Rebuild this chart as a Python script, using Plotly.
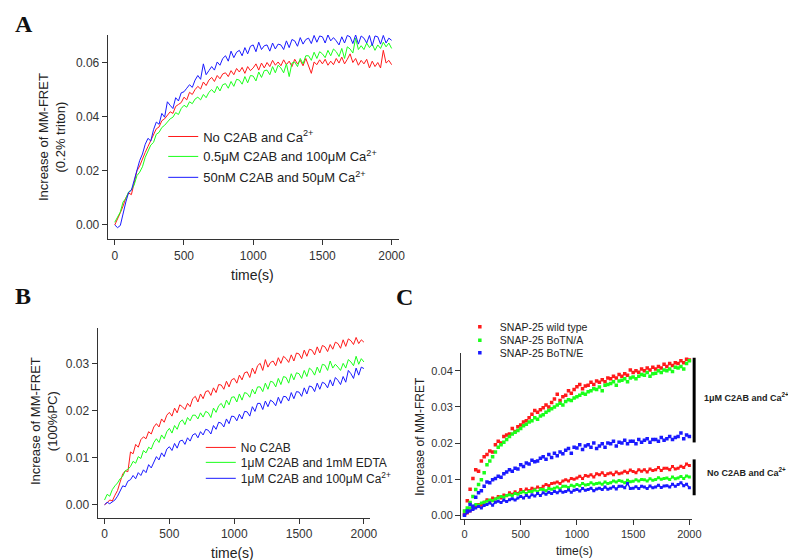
import plotly.graph_objects as go

# ---------------- data ----------------
# Panel A, B: sampled every 20 s from 0 to 2000 s
time_ab = list(range(0, 2001, 20))
# Panel C: sampled every 25 s from 0 to 2000 s
time_c = list(range(0, 2001, 25))

a_red = [0.0000, 0.0020, 0.0045, 0.0070, 0.0100,
         0.0118, 0.0112, 0.0155, 0.0200, 0.0218,
         0.0245, 0.0268, 0.0290, 0.0312, 0.0335,
         0.0355, 0.0362, 0.0385, 0.0392, 0.0405,
         0.0418, 0.0412, 0.0438, 0.0445, 0.0452,
         0.0472, 0.0462, 0.0490, 0.0482, 0.0500,
         0.0512, 0.0502, 0.0528, 0.0515, 0.0535,
         0.0545, 0.0530, 0.0552, 0.0540, 0.0558,
         0.0562, 0.0548, 0.0570, 0.0555, 0.0578,
         0.0565, 0.0582, 0.0560, 0.0585, 0.0570,
         0.0580, 0.0595, 0.0572, 0.0598, 0.0580,
         0.0600, 0.0585, 0.0608, 0.0590, 0.0602,
         0.0588, 0.0610, 0.0592, 0.0605, 0.0585,
         0.0612, 0.0595, 0.0608, 0.0588, 0.0615,
         0.0590, 0.0560, 0.0602, 0.0592, 0.0610,
         0.0595, 0.0612, 0.0590, 0.0605, 0.0592,
         0.0615, 0.0598, 0.0620, 0.0595, 0.0612,
         0.0632, 0.0600, 0.0615, 0.0590, 0.0608,
         0.0595, 0.0612, 0.0580, 0.0605, 0.0585,
         0.0600, 0.0580, 0.0645, 0.0598, 0.0608,
         0.0592]
a_green = [0.0010, 0.0032, 0.0048, 0.0085, 0.0098,
           0.0122, 0.0130, 0.0148, 0.0182, 0.0195,
           0.0215, 0.0250, 0.0272, 0.0295, 0.0305,
           0.0335, 0.0342, 0.0360, 0.0368, 0.0380,
           0.0392, 0.0398, 0.0415, 0.0408, 0.0430,
           0.0442, 0.0435, 0.0455, 0.0448, 0.0465,
           0.0472, 0.0462, 0.0482, 0.0470, 0.0490,
           0.0500, 0.0488, 0.0512, 0.0495, 0.0518,
           0.0522, 0.0505, 0.0530, 0.0512, 0.0538,
           0.0535, 0.0520, 0.0548, 0.0525, 0.0552,
           0.0550, 0.0532, 0.0565, 0.0545, 0.0570,
           0.0572, 0.0555, 0.0585, 0.0562, 0.0590,
           0.0580, 0.0562, 0.0595, 0.0548, 0.0598,
           0.0602, 0.0585, 0.0615, 0.0595, 0.0625,
           0.0625, 0.0608, 0.0638, 0.0615, 0.0640,
           0.0632, 0.0618, 0.0645, 0.0625, 0.0650,
           0.0640, 0.0622, 0.0652, 0.0615, 0.0658,
           0.0650, 0.0635, 0.0690, 0.0648, 0.0662,
           0.0648, 0.0672, 0.0655, 0.0668, 0.0645,
           0.0665, 0.0652, 0.0675, 0.0658, 0.0672,
           0.0652]
a_blue = [0.0000, -0.0010, -0.0002, 0.0045, 0.0085,
          0.0120, 0.0128, 0.0165, 0.0205, 0.0238,
          0.0262, 0.0298, 0.0320, 0.0310, 0.0352,
          0.0380, 0.0372, 0.0412, 0.0398, 0.0455,
          0.0442, 0.0430, 0.0470, 0.0458, 0.0488,
          0.0492, 0.0505, 0.0518, 0.0508, 0.0535,
          0.0552, 0.0538, 0.0595, 0.0555, 0.0570,
          0.0585, 0.0572, 0.0602, 0.0590, 0.0615,
          0.0625, 0.0605, 0.0642, 0.0618, 0.0638,
          0.0645, 0.0625, 0.0655, 0.0632, 0.0660,
          0.0665, 0.0640, 0.0675, 0.0648, 0.0662,
          0.0665, 0.0642, 0.0672, 0.0650, 0.0668,
          0.0665, 0.0648, 0.0680, 0.0655, 0.0685,
          0.0680, 0.0660, 0.0692, 0.0668, 0.0685,
          0.0690, 0.0670, 0.0700, 0.0675, 0.0698,
          0.0695, 0.0672, 0.0702, 0.0680, 0.0692,
          0.0680, 0.0665, 0.0695, 0.0672, 0.0700,
          0.0695, 0.0670, 0.0702, 0.0668, 0.0698,
          0.0690, 0.0672, 0.0700, 0.0662, 0.0698,
          0.0695, 0.0668, 0.0700, 0.0672, 0.0690,
          0.0682]

b_red = [0.0000, 0.0004, 0.0010, 0.0008, 0.0020,
         0.0030, 0.0048, 0.0065, 0.0072, 0.0070,
         0.0112, 0.0108, 0.0128, 0.0122, 0.0138,
         0.0144, 0.0140, 0.0155, 0.0150, 0.0165,
         0.0172, 0.0165, 0.0182, 0.0175, 0.0190,
         0.0196, 0.0188, 0.0205, 0.0195, 0.0212,
         0.0208, 0.0202, 0.0215, 0.0208, 0.0225,
         0.0230, 0.0218, 0.0235, 0.0225, 0.0240,
         0.0242, 0.0232, 0.0248, 0.0238, 0.0255,
         0.0254, 0.0245, 0.0262, 0.0250, 0.0265,
         0.0268, 0.0258, 0.0275, 0.0265, 0.0280,
         0.0282, 0.0270, 0.0290, 0.0278, 0.0295,
         0.0300, 0.0285, 0.0308, 0.0292, 0.0302,
         0.0305, 0.0295, 0.0312, 0.0300, 0.0315,
         0.0310, 0.0302, 0.0318, 0.0305, 0.0322,
         0.0320, 0.0310, 0.0328, 0.0315, 0.0330,
         0.0328, 0.0318, 0.0335, 0.0322, 0.0338,
         0.0335, 0.0325, 0.0340, 0.0330, 0.0345,
         0.0342, 0.0332, 0.0350, 0.0336, 0.0352,
         0.0348, 0.0340, 0.0355, 0.0342, 0.0350,
         0.0345]
b_green = [0.0010, 0.0022, 0.0018, 0.0032, 0.0040,
           0.0046, 0.0055, 0.0060, 0.0072, 0.0075,
           0.0081, 0.0092, 0.0088, 0.0102, 0.0098,
           0.0115, 0.0110, 0.0122, 0.0118, 0.0132,
           0.0140, 0.0132, 0.0148, 0.0140, 0.0155,
           0.0162, 0.0152, 0.0168, 0.0160, 0.0175,
           0.0180, 0.0170, 0.0185, 0.0178, 0.0190,
           0.0190, 0.0182, 0.0195, 0.0186, 0.0198,
           0.0195, 0.0185, 0.0205, 0.0196, 0.0210,
           0.0215, 0.0205, 0.0222, 0.0212, 0.0228,
           0.0229, 0.0218, 0.0235, 0.0222, 0.0238,
           0.0236, 0.0228, 0.0245, 0.0235, 0.0250,
           0.0250, 0.0240, 0.0258, 0.0245, 0.0262,
           0.0260, 0.0250, 0.0268, 0.0255, 0.0272,
           0.0270, 0.0258, 0.0278, 0.0265, 0.0280,
           0.0278, 0.0268, 0.0285, 0.0272, 0.0290,
           0.0285, 0.0275, 0.0292, 0.0280, 0.0298,
           0.0296, 0.0285, 0.0305, 0.0290, 0.0298,
           0.0292, 0.0285, 0.0300, 0.0290, 0.0308,
           0.0303, 0.0295, 0.0315, 0.0298, 0.0310,
           0.0303]
b_blue = [0.0000, 0.0005, 0.0002, 0.0006, 0.0010,
          0.0018, 0.0028, 0.0040, 0.0038, 0.0050,
          0.0053, 0.0062, 0.0055, 0.0068, 0.0062,
          0.0074, 0.0068, 0.0085, 0.0078, 0.0092,
          0.0102, 0.0095, 0.0110, 0.0102, 0.0118,
          0.0123, 0.0115, 0.0130, 0.0120, 0.0135,
          0.0137, 0.0128, 0.0142, 0.0135, 0.0148,
          0.0151, 0.0142, 0.0155, 0.0148, 0.0160,
          0.0158, 0.0150, 0.0168, 0.0160, 0.0175,
          0.0173, 0.0165, 0.0182, 0.0172, 0.0188,
          0.0187, 0.0178, 0.0192, 0.0182, 0.0198,
          0.0197, 0.0188, 0.0208, 0.0198, 0.0215,
          0.0215, 0.0202, 0.0220, 0.0208, 0.0222,
          0.0218, 0.0210, 0.0228, 0.0215, 0.0230,
          0.0229, 0.0220, 0.0238, 0.0225, 0.0240,
          0.0239, 0.0230, 0.0248, 0.0235, 0.0252,
          0.0250, 0.0240, 0.0258, 0.0245, 0.0260,
          0.0257, 0.0248, 0.0265, 0.0252, 0.0270,
          0.0264, 0.0255, 0.0272, 0.0260, 0.0285,
          0.0278, 0.0268, 0.0290, 0.0275, 0.0292,
          0.0289]

# Panel C, upper group (1 uM C2AB and Ca2+)
c_red_up = [0.0002, 0.0040, 0.0072, 0.0102,
            0.0126, 0.0122, 0.0150, 0.0162,
            0.0168, 0.0178, 0.0175, 0.0195,
            0.0205, 0.0200, 0.0218, 0.0222,
            0.0225, 0.0240, 0.0232, 0.0245,
            0.0250, 0.0258, 0.0262, 0.0270,
            0.0280, 0.0290, 0.0285, 0.0292,
            0.0298, 0.0305, 0.0300, 0.0312,
            0.0322, 0.0335, 0.0318, 0.0328,
            0.0332, 0.0345, 0.0338, 0.0348,
            0.0356, 0.0362, 0.0350, 0.0358,
            0.0360, 0.0368, 0.0362, 0.0372,
            0.0368, 0.0375, 0.0370, 0.0380,
            0.0378, 0.0385, 0.0380, 0.0390,
            0.0385, 0.0392, 0.0388, 0.0402,
            0.0395, 0.0400, 0.0396, 0.0405,
            0.0400, 0.0408, 0.0402, 0.0410,
            0.0405, 0.0412, 0.0408, 0.0418,
            0.0412, 0.0420, 0.0415, 0.0422,
            0.0420, 0.0428, 0.0422, 0.0432,
            0.0430]
c_green_up = [0.0012, 0.0020, 0.0035, 0.0052,
              0.0071, 0.0085, 0.0098, 0.0118,
              0.0140, 0.0150, 0.0162, 0.0175,
              0.0188, 0.0195, 0.0202, 0.0210,
              0.0218, 0.0225, 0.0230, 0.0235,
              0.0240, 0.0248, 0.0252, 0.0258,
              0.0262, 0.0270, 0.0266, 0.0275,
              0.0278, 0.0285, 0.0290, 0.0295,
              0.0300, 0.0305, 0.0310, 0.0305,
              0.0315, 0.0320, 0.0318, 0.0325,
              0.0328, 0.0332, 0.0338, 0.0335,
              0.0342, 0.0345, 0.0350, 0.0348,
              0.0355, 0.0345, 0.0360, 0.0362,
              0.0365, 0.0370, 0.0360, 0.0372,
              0.0374, 0.0378, 0.0370, 0.0380,
              0.0383, 0.0378, 0.0385, 0.0390,
              0.0388, 0.0395, 0.0385, 0.0392,
              0.0393, 0.0400, 0.0395, 0.0402,
              0.0400, 0.0405, 0.0398, 0.0410,
              0.0408, 0.0412, 0.0405, 0.0420,
              0.0428]
c_blue_up = [0.0000, 0.0012, 0.0030, 0.0025,
             0.0050, 0.0062, 0.0068, 0.0080,
             0.0092, 0.0090, 0.0098, 0.0102,
             0.0108, 0.0105, 0.0115, 0.0120,
             0.0126, 0.0122, 0.0130, 0.0128,
             0.0140, 0.0135, 0.0145, 0.0142,
             0.0152, 0.0148, 0.0150, 0.0158,
             0.0162, 0.0155, 0.0168, 0.0160,
             0.0172, 0.0165, 0.0175, 0.0170,
             0.0180, 0.0185, 0.0172, 0.0188,
             0.0186, 0.0195, 0.0182, 0.0192,
             0.0195, 0.0188, 0.0200, 0.0185,
             0.0192, 0.0198, 0.0188, 0.0200,
             0.0198, 0.0205, 0.0192, 0.0202,
             0.0200, 0.0208, 0.0198, 0.0205,
             0.0205, 0.0198, 0.0210, 0.0202,
             0.0208, 0.0212, 0.0202, 0.0210,
             0.0210, 0.0205, 0.0215, 0.0208,
             0.0212, 0.0218, 0.0210, 0.0215,
             0.0218, 0.0228, 0.0212, 0.0222,
             0.0218]
# Panel C, lower group (No C2AB and Ca2+)
c_red_lo = [0.0000, 0.0006, 0.0012, 0.0018,
            0.0025, 0.0030, 0.0028, 0.0036,
            0.0043, 0.0040, 0.0048, 0.0045,
            0.0052, 0.0048, 0.0056, 0.0054,
            0.0062, 0.0058, 0.0065, 0.0060,
            0.0071, 0.0066, 0.0073, 0.0068,
            0.0075, 0.0072, 0.0078, 0.0074,
            0.0080, 0.0085, 0.0082, 0.0088,
            0.0089, 0.0092, 0.0088, 0.0095,
            0.0098, 0.0095, 0.0102, 0.0100,
            0.0103, 0.0108, 0.0102, 0.0110,
            0.0108, 0.0112, 0.0106, 0.0115,
            0.0112, 0.0118, 0.0110, 0.0115,
            0.0117, 0.0112, 0.0120, 0.0115,
            0.0117, 0.0122, 0.0118, 0.0125,
            0.0121, 0.0118, 0.0126, 0.0122,
            0.0126, 0.0120, 0.0128, 0.0124,
            0.0126, 0.0132, 0.0124, 0.0130,
            0.0130, 0.0126, 0.0135, 0.0128,
            0.0130, 0.0136, 0.0132, 0.0142,
            0.0138]
c_green_lo = [0.0011, 0.0015, 0.0020, 0.0025,
              0.0030, 0.0028, 0.0034, 0.0036,
              0.0039, 0.0042, 0.0040, 0.0045,
              0.0048, 0.0052, 0.0050, 0.0055,
              0.0057, 0.0054, 0.0060, 0.0058,
              0.0062, 0.0065, 0.0060, 0.0066,
              0.0066, 0.0070, 0.0065, 0.0072,
              0.0071, 0.0068, 0.0074, 0.0072,
              0.0075, 0.0078, 0.0073, 0.0080,
              0.0080, 0.0077, 0.0083, 0.0080,
              0.0085, 0.0082, 0.0088, 0.0084,
              0.0085, 0.0090, 0.0086, 0.0088,
              0.0089, 0.0086, 0.0092, 0.0088,
              0.0090, 0.0095, 0.0092, 0.0096,
              0.0094, 0.0090, 0.0097, 0.0093,
              0.0094, 0.0098, 0.0095, 0.0099,
              0.0098, 0.0095, 0.0101, 0.0097,
              0.0099, 0.0104, 0.0100, 0.0102,
              0.0103, 0.0099, 0.0106, 0.0101,
              0.0103, 0.0107, 0.0102, 0.0109,
              0.0106]
c_blue_lo = [0.0000, 0.0008, 0.0012, 0.0016,
             0.0020, 0.0024, 0.0020, 0.0027,
             0.0030, 0.0034, 0.0028, 0.0036,
             0.0039, 0.0035, 0.0042, 0.0038,
             0.0043, 0.0046, 0.0042, 0.0048,
             0.0052, 0.0048, 0.0055, 0.0050,
             0.0057, 0.0053, 0.0060, 0.0055,
             0.0062, 0.0058, 0.0064, 0.0060,
             0.0066, 0.0062, 0.0068, 0.0064,
             0.0066, 0.0070, 0.0064, 0.0069,
             0.0071, 0.0067, 0.0074, 0.0069,
             0.0071, 0.0075, 0.0068, 0.0073,
             0.0075, 0.0071, 0.0078, 0.0072,
             0.0075, 0.0079, 0.0073, 0.0080,
             0.0080, 0.0076, 0.0088, 0.0074,
             0.0075, 0.0079, 0.0074, 0.0080,
             0.0078, 0.0074, 0.0081, 0.0076,
             0.0078, 0.0083, 0.0077, 0.0081,
             0.0082, 0.0078, 0.0086, 0.0080,
             0.0085, 0.0090, 0.0082, 0.0086,
             0.0076]

names_a = ["No C2AB and Ca<sup>2+</sup>",
           "0.5μM C2AB and 100μM Ca<sup>2+</sup>",
           "50nM C2AB and 50μM Ca<sup>2+</sup>"]
names_b = ["No C2AB", "1μM C2AB and 1mM EDTA",
           "1μM C2AB and 100μM Ca<sup>2+</sup>"]
names_c = ["SNAP-25 wild type", "SNAP-25 BoTN/A", "SNAP-25 BoTN/E"]
colors = ["#ff1a1a", "#1aff1a", "#1a1aff"]

ticks_x = [0, 500, 1000, 1500, 2000]
ticks_a = [0.00, 0.02, 0.04, 0.06]
ticks_b = [0.00, 0.01, 0.02, 0.03]
ticks_c = [0.00, 0.01, 0.02, 0.03, 0.04]

# ---------------- figure ----------------
W, H = 796, 560
FONT = "Liberation Sans, Arial, sans-serif"
fig = go.Figure()

def px(x):
    return x / W

def py(y):
    return 1 - y / H

# one legend per entry so each row can sit exactly where the reference puts it
leg_a = ["legend", "legend2", "legend3"]
leg_b = ["legend4", "legend5", "legend6"]
leg_c = ["legend7", "legend8", "legend9"]

for ys, nm, col, lg in zip([a_red, a_green, a_blue], names_a, colors, leg_a):
    fig.add_trace(go.Scatter(x=time_ab[:len(ys)], y=ys, name=nm, mode="lines",
                             line=dict(color=col, width=1), xaxis="x", yaxis="y",
                             legend=lg))
for ys, nm, col, lg in zip([b_red, b_green, b_blue], names_b, colors, leg_b):
    fig.add_trace(go.Scatter(x=time_ab[:len(ys)], y=ys, name=nm, mode="lines",
                             line=dict(color=col, width=1), xaxis="x2", yaxis="y2",
                             legend=lg))
for yu, yl, nm, col, lg in zip([c_red_up, c_green_up, c_blue_up],
                               [c_red_lo, c_green_lo, c_blue_lo], names_c, colors, leg_c):
    fig.add_trace(go.Scatter(x=time_c[:len(yu)], y=yu, name=nm, mode="markers",
                             marker=dict(color=col, size=3.5, symbol="square"),
                             xaxis="x3", yaxis="y3", legend=lg, legendgroup=nm))
    fig.add_trace(go.Scatter(x=time_c[:len(yl)], y=yl, name=nm, mode="lines+markers",
                             line=dict(color=col, width=1.5),
                             marker=dict(color=col, size=3, symbol="square"),
                             xaxis="x3", yaxis="y3", legend=lg, legendgroup=nm,
                             showlegend=False))

axis_common = dict(showline=True, linecolor="#333", linewidth=1.3, ticks="outside",
                   ticklen=5, tickwidth=1.2, tickcolor="#333", showgrid=False,
                   zeroline=False, mirror=False,
                   tickfont=dict(family=FONT, size=12, color="#333"))
axis_c = {**axis_common, "tickfont": dict(family=FONT, size=11, color="#333")}

layout = dict(
    width=W, height=H, margin=dict(l=0, r=0, t=0, b=0),
    paper_bgcolor="white", plot_bgcolor="white",
    font=dict(family=FONT, color="#222"),
    showlegend=True,
    xaxis=dict(domain=[px(101), px(395)], range=[-50, 2050], tickvals=ticks_x,
               anchor="y", **axis_common),
    yaxis=dict(domain=[py(232), py(27)], range=[-0.00525, 0.0702], tickvals=ticks_a,
               tickformat=".2f", anchor="x", **axis_common),
    xaxis2=dict(domain=[px(90.7), px(366)], range=[-53, 2046], tickvals=ticks_x,
                anchor="y2", **axis_common),
    yaxis2=dict(domain=[py(511.7), py(320.7)], range=[-0.0028, 0.0376], tickvals=ticks_b,
                tickformat=".2f", anchor="x2", **axis_common),
    xaxis3=dict(domain=[px(458.3), px(692)], range=[-30, 2025], tickvals=ticks_x,
                anchor="y3", **axis_c),
    yaxis3=dict(domain=[py(512.7), py(346.7)], range=[-0.001, 0.0448], tickvals=ticks_c,
                tickformat=".2f", anchor="x3", **axis_c),
)

def leg(x, y, size):
    return dict(x=px(x), y=py(y), xanchor="left", yanchor="middle",
                bgcolor="rgba(0,0,0,0)", font=dict(family=FONT, size=size, color="#222"),
                tracegroupgap=0, itemwidth=30, borderwidth=0)

for lg, yy in zip(leg_a, [129, 149, 170]):
    layout[lg] = leg(157, yy, 13)
for lg, yy in zip(leg_b, [441, 456, 472]):
    layout[lg] = leg(195, yy, 12)
for lg, yy in zip(leg_c, [320, 333.5, 346]):
    layout[lg] = leg(457, yy, 10.5)

fig.update_layout(**layout)

ann = []
def text(x, y, t, size, angle=0, serif=False, xanchor="center"):
    fam = "Liberation Serif, Times New Roman, serif" if serif else FONT
    ann.append(dict(x=px(x), y=py(y), xref="paper", yref="paper", text=t,
                    showarrow=False, textangle=angle, xanchor=xanchor, yanchor="middle",
                    font=dict(family=fam, size=size, color="#111" if serif else "#222")))

# panel letters
text(16, 16, "<b>A</b>", 24, serif=True)
text(15, 289, "<b>B</b>", 24, serif=True)
text(401, 290, "<b>C</b>", 24, serif=True)
# axis titles
text(44, 130, "Increase of MM-FRET<br>(0.2% triton)", 13, angle=-90)
text(247, 268, "time(s)", 14)
text(36, 415, "Increase of MM-FRET<br>(100%PC)", 13, angle=-90)
text(227, 547, "time(s)", 14)
text(417, 430, "Increase of MM-FRET", 12, angle=-90)
text(573, 545, "time(s)", 12)
# bracket labels
text(702, 390, "<b>1μM C2AB and Ca<sup>2+</sup></b>", 9, xanchor="left")
text(705, 466, "<b>No C2AB and Ca<sup>2+</sup></b>", 9, xanchor="left")
fig.update_layout(annotations=ann)

# brackets
for y0, y1 in [(351, 436), (453, 489)]:
    fig.add_shape(type="line", xref="paper", yref="paper", x0=px(694), x1=px(694),
                  y0=py(y0), y1=py(y1), line=dict(color="black", width=3))

fig.write_html("out.html")
